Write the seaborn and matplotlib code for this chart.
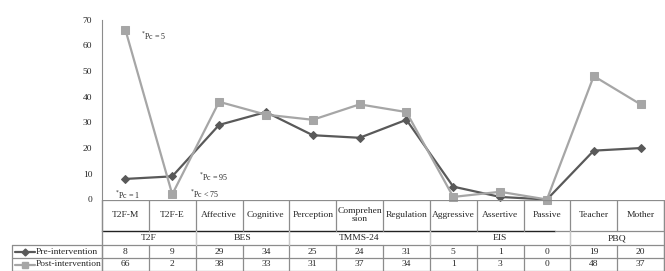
import pandas as pd
import matplotlib.pyplot as plt
import seaborn as sns

categories = ["T2F-M", "T2F-E", "Affective", "Cognitive", "Perception", "Comprehen\nsion",
              "Regulation", "Aggressive", "Assertive", "Passive", "Teacher", "Mother"]
groups = ["T2F", "BES", "TMMS-24", "EIS", "PBQ"]
group_spans = [(0, 1), (2, 3), (4, 6), (7, 9), (10, 11)]
pre = [8, 9, 29, 34, 25, 24, 31, 5, 1, 0, 19, 20]
post = [66, 2, 38, 33, 31, 37, 34, 1, 3, 0, 48, 37]
series_names = ["Pre-intervention", "Post-intervention"]

dark = "#595959"
light = "#a6a6a6"
grid = "#8c8c8c"

sns.set_style("white")
plt.rcParams["font.family"] = ["Liberation Serif", "DejaVu Serif"]

W, H = 665, 271
fig = plt.figure(figsize=(W / 100, H / 100), dpi=100)

# main line axes, placed in pixel terms
x0, x1, ytop, ybot = 102, 664, 19.5, 199.5
ax = fig.add_axes([x0 / W, 1 - ybot / H, (x1 - x0) / W, (ybot - ytop) / H])

df = pd.DataFrame({"pos": list(range(len(categories))) * 2,
                   "value": pre + post,
                   "series": [series_names[0]] * len(pre) + [series_names[1]] * len(post)})

sns.lineplot(data=df[df.series == series_names[0]], x="pos", y="value", ax=ax, color=dark,
             marker="D", markersize=4, markeredgecolor=dark, linewidth=1.6, clip_on=False)
sns.lineplot(data=df[df.series == series_names[1]], x="pos", y="value", ax=ax, color=light,
             marker="s", markersize=5.5, markeredgecolor=light, linewidth=1.6, clip_on=False)

ax.set_xlim(-0.5, len(categories) - 0.5)
ax.set_ylim(0, 70)
ax.set_yticks(range(0, 71, 10))
ax.set_xticks([])
ax.set_xlabel("")
ax.set_ylabel("")
ax.tick_params(axis="y", labelsize=6.8, length=0, pad=7)
for s in ["top", "right", "bottom"]:
    ax.spines[s].set_visible(False)
ax.spines["left"].set_color(grid)
ax.spines["left"].set_linewidth(0.8)
if ax.get_legend():
    ax.get_legend().remove()

notes = [(0.33, 63.8, "Pc = 5"), (-0.22, 1.9, "Pc = 1"), (1.57, 8.9, "Pc = 95"), (1.38, 2.3, "Pc < 75")]
for nx, ny, t in notes:
    ax.text(nx, ny, r"$^{*}$" + t, fontsize=5.8, ha="left", va="center")

# table axes, data coords = pixels
lx = 12
tab = fig.add_axes([0, 0, 1, (H - ybot) / H])
tab.set_xlim(0, W)
tab.set_ylim(H, ybot)
tab.axis("off")
cw = (x1 - x0) / len(categories)
r1, r2, r3, r4 = 199.5, 231, 245, 258

def cx(i):
    return x0 + cw * (i + 0.5)

lw = 0.9
# horizontal lines
tab.plot([x0, x1], [r1, r1], color=grid, lw=lw)
tab.plot([x0, 555], [r2, r2], color="#222222", lw=1.0)
tab.plot([555, x1], [r2, r2], color=grid, lw=lw)
for yy in (r3, r4, H - 0.5):
    tab.plot([lx, x1], [yy, yy], color=grid, lw=lw)
# vertical lines
for i in range(len(categories) + 1):
    xx = x0 + cw * i
    tab.plot([xx, xx], [r1, r2], color=grid, lw=lw)
    tab.plot([xx, xx], [r3, H], color=grid, lw=lw)
for a, b in group_spans:
    for xx in (x0 + cw * a, x0 + cw * (b + 1)):
        tab.plot([xx, xx], [r2, r3], color="#c8c8c8", lw=lw)
tab.plot([x0, x0], [r1, H], color=grid, lw=lw)
tab.plot([lx, lx], [r3, H], color=grid, lw=lw)
tab.plot([x1, x1], [r1, H], color=grid, lw=lw)

fs = 6.8
for i, c in enumerate(categories):
    tab.text(cx(i), (r1 + r2) / 2, c, ha="center", va="center", fontsize=fs, linespacing=0.95)
    tab.text(cx(i), (r3 + r4) / 2, str(pre[i]), ha="center", va="center", fontsize=fs)
    tab.text(cx(i), (r4 + H) / 2, str(post[i]), ha="center", va="center", fontsize=fs)
for g, (a, b) in zip(groups, group_spans):
    tab.text((cx(a) + cx(b)) / 2, (r2 + r3) / 2, g, ha="center", va="center", fontsize=fs)

# legend keys inside the table
for yy, name, col, mk, ms in [((r3 + r4) / 2, series_names[0], dark, "D", 3.5),
                              ((r4 + H) / 2, series_names[1], light, "s", 5)]:
    tab.plot([15, 35], [yy, yy], color=col, lw=1.6)
    tab.plot([25], [yy], marker=mk, color=col, markersize=ms)
    tab.text(36, yy, name, ha="left", va="center", fontsize=fs)

fig.savefig("out.png", dpi=100)
